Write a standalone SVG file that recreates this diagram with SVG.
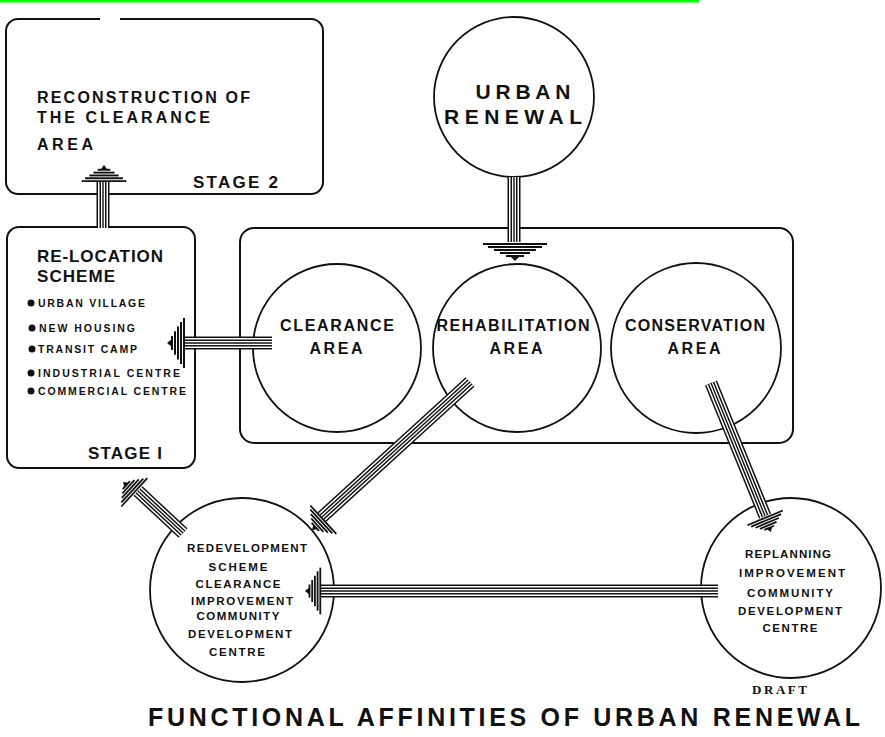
<svg xmlns="http://www.w3.org/2000/svg" xmlns:xlink="http://www.w3.org/1999/xlink" width="885" height="737" viewBox="0 0 885 737">
<style>
.box{fill:none;stroke:#111;stroke-width:2}
.circ{fill:#fff;stroke:#111;stroke-width:1.8}
.t{font-family:"Liberation Sans",Arial,sans-serif;font-weight:bold;fill:#111}
.k1{stroke:#111;stroke-width:13;fill:none}
.k2{stroke:#fff;stroke-width:10;fill:none}
.k3{stroke:#111;stroke-width:7;fill:none}
.k4{stroke:#fff;stroke-width:4;fill:none}
.k5{stroke:#111;stroke-width:1.4;fill:none}
.ah line{stroke:#111;stroke-width:2}
</style>
<defs>
<g id="ah" class="ah">
<line x1="-32" y1="-17" x2="32" y2="-17"/>
<line x1="-27" y1="-14" x2="27" y2="-14"/>
<line x1="-21" y1="-11" x2="21" y2="-11"/>
<line x1="-15" y1="-8" x2="15" y2="-8"/>
<line x1="-9" y1="-5" x2="9" y2="-5"/>
<path d="M-5 -5 L5 -5 L0 0 Z" fill="#111"/>
</g>
</defs>
<rect x="0" y="0" width="699" height="2.5" fill="#00ff00"/>

<g id="stage2">
<path class="box" d="M100 19 H18 A12 12 0 0 0 6 31 V182 A12 12 0 0 0 18 194 H311 A12 12 0 0 0 323 182 V31 A12 12 0 0 0 311 19 H120"/>
<text class="t" x="37" y="103" font-size="16" textLength="213" lengthAdjust="spacing">RECONSTRUCTION OF</text>
<text class="t" x="37" y="123" font-size="16" textLength="173" lengthAdjust="spacing">THE CLEARANCE</text>
<text class="t" x="37" y="150" font-size="16" textLength="56" lengthAdjust="spacing">AREA</text>
<text class="t" x="193" y="188" font-size="17" textLength="85" lengthAdjust="spacing">STAGE 2</text>
</g>

<g id="stage1">
<rect class="box" x="7" y="227" width="188" height="241" rx="12"/>
<text class="t" x="37" y="262" font-size="17" textLength="126" lengthAdjust="spacing">RE-LOCATION</text>
<text class="t" x="37" y="282" font-size="17" textLength="78" lengthAdjust="spacing">SCHEME</text>
<g fill="#111">
<circle cx="31" cy="303" r="3.5"/>
<circle cx="32" cy="328" r="3.5"/>
<circle cx="32" cy="349" r="3.5"/>
<circle cx="31" cy="373" r="3.5"/>
<circle cx="31" cy="391" r="3.5"/>
</g>
<text class="t" x="38" y="307" font-size="10.5" textLength="107" lengthAdjust="spacing">URBAN VILLAGE</text>
<text class="t" x="39" y="332" font-size="10.5" textLength="96" lengthAdjust="spacing">NEW HOUSING</text>
<text class="t" x="38" y="353" font-size="10.5" textLength="99" lengthAdjust="spacing">TRANSIT CAMP</text>
<text class="t" x="38" y="377" font-size="10.5" textLength="142" lengthAdjust="spacing">INDUSTRIAL CENTRE</text>
<text class="t" x="38" y="395" font-size="10.5" textLength="148" lengthAdjust="spacing">COMMERCIAL CENTRE</text>
<text class="t" x="88" y="459" font-size="17" textLength="74" lengthAdjust="spacing">STAGE I</text>
</g>

<g id="areas">
<rect class="box" x="240" y="228" width="553" height="215" rx="14"/>
</g>

<g id="urban-renewal">
<circle class="circ" cx="514" cy="97" r="80"/>
<text class="t" x="523" y="99" font-size="21" text-anchor="middle" textLength="95" lengthAdjust="spacing">URBAN</text>
<text class="t" x="513" y="124" font-size="21" text-anchor="middle" textLength="138" lengthAdjust="spacing">RENEWAL</text>
</g>

<g id="clearance">
<circle class="circ" cx="337" cy="348" r="84"/>
<text class="t" x="337" y="331" font-size="16" text-anchor="middle" textLength="114" lengthAdjust="spacing">CLEARANCE</text>
<text class="t" x="336" y="354" font-size="16" text-anchor="middle" textLength="53" lengthAdjust="spacing">AREA</text>
</g>

<g id="rehabilitation">
<circle class="circ" cx="517" cy="348" r="84"/>
<text class="t" x="513" y="331" font-size="16" text-anchor="middle" textLength="153" lengthAdjust="spacing">REHABILITATION</text>
<text class="t" x="516" y="354" font-size="16" text-anchor="middle" textLength="53" lengthAdjust="spacing">AREA</text>
</g>

<g id="conservation">
<circle class="circ" cx="696" cy="348" r="85"/>
<text class="t" x="695" y="331" font-size="16" text-anchor="middle" textLength="140" lengthAdjust="spacing">CONSERVATION</text>
<text class="t" x="694" y="354" font-size="16" text-anchor="middle" textLength="53" lengthAdjust="spacing">AREA</text>
</g>

<g id="redevelopment">
<circle class="circ" cx="242" cy="590" r="92"/>
<g class="t" font-size="11.5" text-anchor="middle">
<text x="247" y="552" textLength="120" lengthAdjust="spacing">REDEVELOPMENT</text>
<text x="238" y="571" textLength="59" lengthAdjust="spacing">SCHEME</text>
<text x="238" y="588" textLength="85" lengthAdjust="spacing">CLEARANCE</text>
<text x="242" y="605" textLength="102" lengthAdjust="spacing">IMPROVEMENT</text>
<text x="238" y="620" textLength="83" lengthAdjust="spacing">COMMUNITY</text>
<text x="240" y="638" textLength="104" lengthAdjust="spacing">DEVELOPMENT</text>
<text x="237" y="656" textLength="56" lengthAdjust="spacing">CENTRE</text>
</g>
</g>

<g id="replanning">
<circle class="circ" cx="791" cy="588" r="90"/>
<g class="t" font-size="11.5" text-anchor="middle">
<text x="788" y="558" textLength="86" lengthAdjust="spacing">REPLANNING</text>
<text x="792" y="577" textLength="106" lengthAdjust="spacing">IMPROVEMENT</text>
<text x="790" y="597" textLength="86" lengthAdjust="spacing">COMMUNITY</text>
<text x="790" y="615" textLength="104" lengthAdjust="spacing">DEVELOPMENT</text>
<text x="790" y="632" textLength="55" lengthAdjust="spacing">CENTRE</text>
</g>
</g>

<g id="connectors">
<defs>
<path id="c1" d="M514 177 V242"/>
<path id="c2" d="M103 228 V182"/>
<path id="c3" d="M272 343 H184"/>
<path id="c4" d="M470 382 L322 517"/>
<path id="c5" d="M183 533 L138 491"/>
<path id="c6" d="M718 591 H320"/>
<path id="c7" d="M711 383 L765 516"/>
</defs>
<g><use href="#c1" class="k1"/><use href="#c1" class="k2"/><use href="#c1" class="k3"/><use href="#c1" class="k4"/><use href="#c1" class="k5"/></g>
<g><use href="#c2" class="k1"/><use href="#c2" class="k2"/><use href="#c2" class="k3"/><use href="#c2" class="k4"/><use href="#c2" class="k5"/></g>
<g><use href="#c3" class="k1"/><use href="#c3" class="k2"/><use href="#c3" class="k3"/><use href="#c3" class="k4"/><use href="#c3" class="k5"/></g>
<g><use href="#c4" class="k1"/><use href="#c4" class="k2"/><use href="#c4" class="k3"/><use href="#c4" class="k4"/><use href="#c4" class="k5"/></g>
<g><use href="#c5" class="k1"/><use href="#c5" class="k2"/><use href="#c5" class="k3"/><use href="#c5" class="k4"/><use href="#c5" class="k5"/></g>
<g><use href="#c6" class="k1"/><use href="#c6" class="k2"/><use href="#c6" class="k3"/><use href="#c6" class="k4"/><use href="#c6" class="k5"/></g>
<g><use href="#c7" class="k1"/><use href="#c7" class="k2"/><use href="#c7" class="k3"/><use href="#c7" class="k4"/><use href="#c7" class="k5"/></g>
<use href="#ah" transform="translate(515 261)"/>
<use href="#ah" transform="translate(104 165) rotate(180) scale(0.7 0.95)"/>
<use href="#ah" transform="translate(167 343) rotate(90) scale(0.78 1)"/>
<use href="#ah" transform="translate(305 591) rotate(90) scale(0.73 0.9)"/>
<use href="#ah" transform="translate(312 530) rotate(47.6) scale(0.6 0.9)"/>
<use href="#ah" transform="translate(123 482) rotate(132.4) scale(0.6 0.9)"/>
<use href="#ah" transform="translate(771 532) rotate(-22.7) scale(0.6 0.9)"/>
</g>

<text x="752" y="694" font-family="Liberation Serif,serif" font-weight="bold" font-size="13" fill="#111" textLength="55" lengthAdjust="spacing">DRAFT</text>
<text class="t" x="148" y="726" font-size="25" textLength="712" lengthAdjust="spacing">FUNCTIONAL AFFINITIES OF URBAN RENEWAL</text>
</svg>
